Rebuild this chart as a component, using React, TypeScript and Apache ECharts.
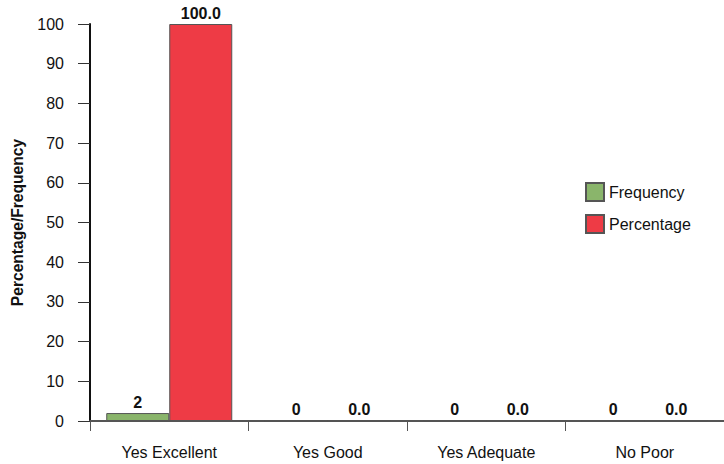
import React, { useEffect, useRef } from "react";
import * as echarts from "echarts";

const categories = ["Yes Excellent", "Yes Good", "Yes Adequate", "No Poor"];
const frequency = [2, 0, 0, 0];
const percentage = [100.0, 0.0, 0.0, 0.0];
const yTicks = { min: 0, max: 100, interval: 10 };

export default function App() {
  const ref = useRef<HTMLDivElement>(null);
  useEffect(() => {
    if (!ref.current) return;
    const chart = echarts.init(ref.current, undefined, { renderer: "svg" });
    const font = "Liberation Sans, Arial, sans-serif";
    chart.setOption({
      animation: false,
      backgroundColor: "#ffffff",
      textStyle: { fontFamily: font },
      grid: { left: 90, right: 0, top: 24, bottom: 43, containLabel: false, outerBoundsMode: "none" },
      legend: {
        orient: "vertical",
        left: 585,
        top: 182,
        padding: 0,
        itemWidth: 18,
        itemHeight: 18,
        itemGap: 12,
        icon: "rect",
        textStyle: { fontSize: 16, color: "#111", fontFamily: font },
        data: ["Frequency", "Percentage"],
      },
      xAxis: {
        type: "category",
        data: categories,
        axisLine: { lineStyle: { color: "#555", width: 2 } },
        axisTick: { show: true, length: 10, lineStyle: { color: "#555", width: 1 } },
        axisLabel: { fontSize: 16, color: "#111", margin: 23, fontFamily: font },
      },
      yAxis: {
        type: "value",
        min: yTicks.min,
        max: yTicks.max,
        interval: yTicks.interval,
        name: "Percentage/Frequency",
        nameLocation: "middle",
        nameGap: 65,
        nameTextStyle: { fontSize: 15.6, fontWeight: "bold", color: "#111", fontFamily: font },
        axisLine: { show: true, lineStyle: { color: "#111", width: 2 } },
        axisTick: { show: true, length: 12, lineStyle: { color: "#333", width: 1 } },
        axisLabel: { fontSize: 16, color: "#111", margin: 26, fontFamily: font },
        splitLine: { show: false },
      },
      series: [
        {
          name: "Frequency",
          type: "bar",
          data: frequency,
          barWidth: 63,
          barGap: "0%",
          itemStyle: { color: "#8ab56b", borderColor: "#555", borderWidth: 1 },
          label: {
            show: true,
            position: "top",
            fontSize: 16,
            fontWeight: "bold",
            color: "#111",
            distance: 3,
            formatter: (p: any) => String(Math.round(p.value)),
          },
        },
        {
          name: "Percentage",
          type: "bar",
          data: percentage,
          barWidth: 63,
          barGap: "0%",
          itemStyle: { color: "#ee3b45", borderColor: "#555", borderWidth: 1 },
          label: {
            show: true,
            position: "top",
            fontSize: 16,
            fontWeight: "bold",
            color: "#111",
            distance: 3,
            formatter: (p: any) => Number(p.value).toFixed(1),
          },
        },
      ],
    });
    return () => chart.dispose();
  }, []);
  return <div ref={ref} style={{ width: 724, height: 464, position: "absolute", left: 0, top: 0 }} />;
}
